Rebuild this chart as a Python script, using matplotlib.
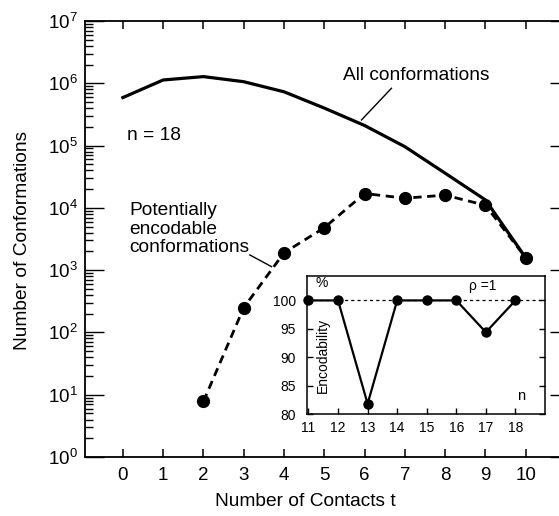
import matplotlib
matplotlib.use("Agg")
import matplotlib.pyplot as plt
import numpy as np
from matplotlib.ticker import FixedLocator, NullFormatter, LogLocator, NullLocator

plt.rcParams['font.family'] = ['Liberation Sans', 'DejaVu Sans']
plt.rcParams['mathtext.fontset'] = 'custom'
plt.rcParams['mathtext.rm'] = 'Liberation Sans'
plt.rcParams['mathtext.it'] = 'Liberation Sans:italic'

# ---- data ----
contacts = [0, 1, 2, 3, 4, 5, 6, 7, 8, 9, 10]
all_conf = [5.9e5, 1.13e6, 1.28e6, 1.06e6, 7.3e5, 4.0e5, 2.1e5, 9.6e4, 3.6e4, 1.34e4, 1.58e3]
enc_contacts = [2, 3, 4, 5, 6, 7, 8, 9, 10]
enc_conf = [7.8, 250, 1.9e3, 4.8e3, 1.7e4, 1.43e4, 1.6e4, 1.1e4, 1.58e3]
y_decades = [1e0, 1e1, 1e2, 1e3, 1e4, 1e5, 1e6, 1e7]

chain_n = [11, 12, 13, 14, 15, 16, 17, 18]
encodability = [100, 100, 81.8, 100, 100, 100, 94.4, 100]
inset_yticks = [80, 85, 90, 95, 100]

W, H = 559, 516
fig = plt.figure(figsize=(W / 100, H / 100), dpi=100)

# main axes
L, R, T, B = 85, 562, 21, 457
ax = fig.add_axes([L / W, 1 - B / H, (R - L) / W, (B - T) / H])
ax.set_yscale('log')
ax.set_xlim(-0.94, 10.9)
ax.set_ylim(1, 1e7)

ax.plot(contacts, all_conf, color='black', lw=2.3, solid_joinstyle='round', zorder=3)
ax.plot(enc_contacts, enc_conf, color='black', lw=2.0, dashes=(3, 2),
        marker='o', markersize=8.5, zorder=4)

ax.spines['right'].set_visible(False)
for s in ['left', 'bottom', 'top']:
    ax.spines[s].set_linewidth(1.3)

ax.set_xticks(contacts)
ax.set_xticklabels([str(c) for c in contacts])
ax.xaxis.set_minor_locator(FixedLocator([1, 3, 5, 7, 9]))
ax.tick_params(axis='x', which='major', direction='in', length=6, width=1.1,
               top=True, bottom=True, labelsize=13.5, pad=7)
ax.tick_params(axis='x', which='minor', direction='in', length=15, width=1.1,
               top=True, bottom=True)

ax.yaxis.set_major_locator(FixedLocator(y_decades))
ax.set_yticklabels([r'$\mathdefault{10^{%d}}$' % int(np.log10(v)) for v in y_decades])
ax.yaxis.set_minor_locator(LogLocator(base=10, subs=np.arange(2, 10), numticks=20))
ax.yaxis.set_minor_formatter(NullFormatter())
ax.tick_params(axis='y', which='major', direction='in', length=14, width=1.0,
               left=True, right=False, labelsize=13.5, pad=5)
ax.tick_params(axis='y', which='minor', direction='in', length=6, width=1.0,
               left=True, right=False)

# right-side short decade ticks
sec = ax.secondary_yaxis('right')
sec.set_yscale('log')
sec.yaxis.set_major_locator(FixedLocator(y_decades))
sec.yaxis.set_minor_locator(NullLocator())
sec.tick_params(axis='y', direction='in', length=9, width=1.0, labelright=False)
sec.spines['right'].set_visible(False)

# annotations
FS = 13.8
ax.text(7.28, 10 ** 6.133, 'All conformations', fontsize=FS, ha='center', va='center')
ax.plot([6.667, 5.923], [10 ** 5.92, 10 ** 5.411], color='black', lw=1.0)
ax.text(0.1, 10 ** 5.154, 'n = 18', fontsize=FS, ha='left', va='center')
ax.text(0.17, 10 ** 3.66, 'Potentially\nencodable\nconformations', fontsize=FS,
        ha='left', va='center', linespacing=1.1)
ax.plot([3.151, 3.69], [10 ** 3.244, 10 ** 3.056], color='black', lw=1.0)

fig.text(305 / W, 1 - 502 / H, 'Number of Contacts t', fontsize=FS, ha='center', va='center')
fig.text(23 / W, 1 - 240 / H, 'Number of Conformations', fontsize=FS, ha='center',
         va='center', rotation=90)

# inset
iL, iR, iT, iB = 307, 545, 276, 414
ins = fig.add_axes([iL / W, 1 - iB / H, (iR - iL) / W, (iB - iT) / H])
ins.set_facecolor('white')
ins.set_xlim(10.95, 19.0)
ins.set_ylim(80, 104.3)
ins.axhline(100, color='black', lw=0.9, dashes=(2.5, 2.5), zorder=1)
ins.plot(chain_n, encodability, color='black', lw=1.6, marker='o', markersize=6.5,
         clip_on=False, zorder=3)
ins.set_xticks(chain_n)
ins.set_xticklabels([str(c) for c in chain_n])
ins.set_yticks(inset_yticks)
ins.set_yticklabels([str(v) for v in inset_yticks])
ins.tick_params(axis='both', direction='in', length=4, width=1.0, labelsize=10)
ins.tick_params(axis='x', pad=5)
ins.tick_params(axis='y', right=True, pad=8)
for s in ins.spines.values():
    s.set_linewidth(1.1)
ins.text(11.25, 103.1, '%', fontsize=10, ha='left', va='center')
ins.text(16.9, 102.6, 'ρ =1', fontsize=10, ha='center', va='center')
ins.text(18.19, 83.2, 'n', fontsize=10.5, ha='center', va='center')
ins.text(11.48, 90.4, 'Encodability', fontsize=10, ha='center', va='center', rotation=90)

fig.savefig('out.png', dpi=100)
